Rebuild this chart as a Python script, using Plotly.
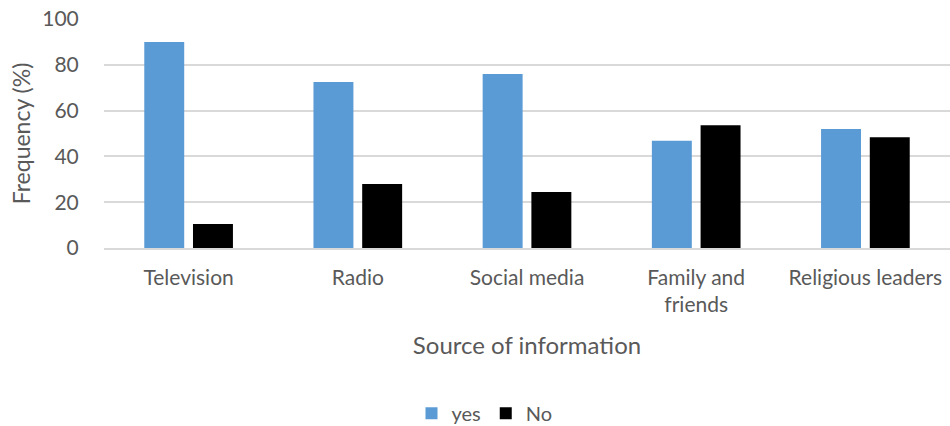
import plotly.graph_objects as go

categories = ["Television", "Radio", "Social media", "Family and<br>friends", "Religious leaders"]
yes_values = [90.0, 72.5, 76.0, 46.8, 52.0]
no_values = [10.5, 27.9, 24.4, 53.6, 48.4]
y_ticks = [0, 20, 40, 60, 80, 100]

font = "Lato, 'Open Sans', sans-serif"
grey = "#595959"

fig = go.Figure()
fig.add_trace(go.Bar(x=categories, y=yes_values, name="yes",
                     marker=dict(color="#5b9bd5", line=dict(width=0))))
fig.add_trace(go.Bar(x=categories, y=no_values, name="No",
                     marker=dict(color="#000000", line=dict(width=0))))

fig.update_layout(
    width=950, height=426,
    margin=dict(l=104, r=0, t=19, b=178),
    paper_bgcolor="white", plot_bgcolor="white",
    barmode="group", bargap=0.424, bargroupgap=0.18,
    font=dict(family=font, color=grey, size=21),
    showlegend=True,
    legend=dict(orientation="h", xref="container", yref="container",
                x=0.51, y=0.03, xanchor="center", yanchor="middle",
                font=dict(size=20, color=grey), traceorder="normal",
                itemwidth=30),
    xaxis=dict(
        showgrid=False, showline=True, linecolor="#d9d9d9", linewidth=1.5,
        ticks="outside", ticklen=10, tickcolor="rgba(0,0,0,0)",
        tickfont=dict(size=21, color=grey),
        title=dict(text="Source of information", font=dict(size=24, color=grey), standoff=22),
    ),
    yaxis=dict(
        range=[0, 100], tickvals=y_ticks,
        showgrid=True, gridcolor="#d9d9d9", gridwidth=1.5,
        zeroline=False, showline=False,
        ticks="outside", ticklen=20, tickcolor="rgba(0,0,0,0)",
        tickfont=dict(size=21, color=grey),
        title=dict(text="Frequency (%)", font=dict(size=23, color=grey), standoff=5),
    ),
)

fig.write_html("out.html")
